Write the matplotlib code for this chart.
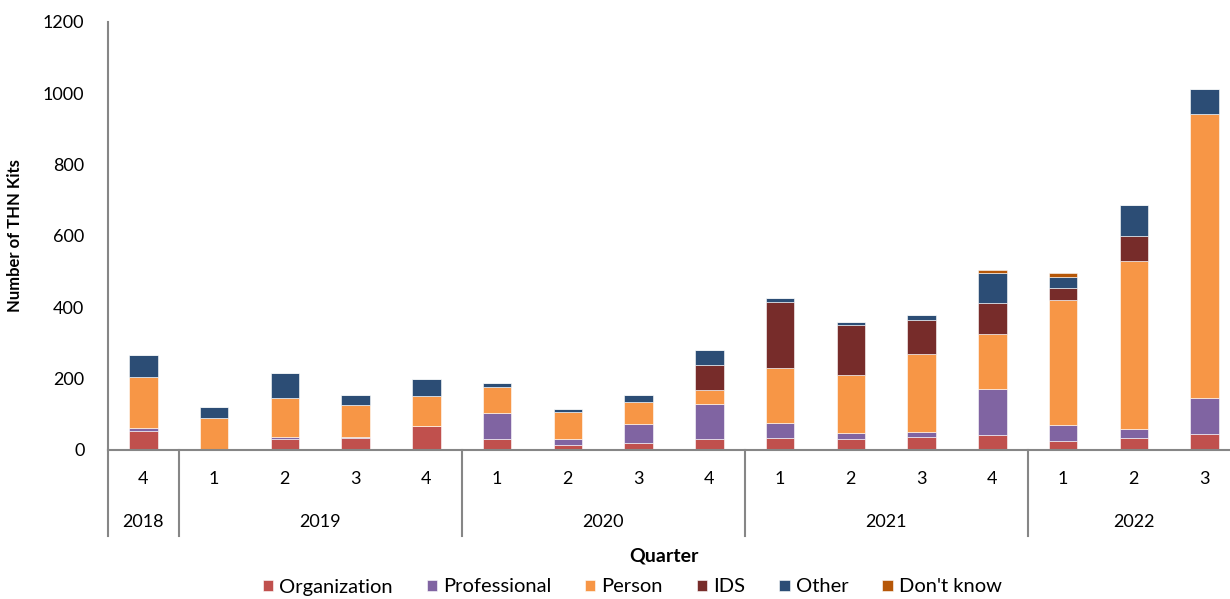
import matplotlib.pyplot as plt
import matplotlib.transforms as mtransforms
import numpy as np

plt.rcParams['font.family'] = ['Lato', 'DejaVu Sans']

quarters = ['4', '1', '2', '3', '4', '1', '2', '3', '4', '1', '2', '3', '4', '1', '2', '3']
years = ['2018', '2019', '2020', '2021', '2022']
year_counts = [1, 4, 4, 4, 3]

organization = [53, 1, 30, 33, 68, 30, 14, 20, 30, 33, 30, 36, 42, 24, 33, 45]
professional = [9, 3, 6, 3, 0, 73, 16, 52, 99, 42, 18, 14, 128, 47, 26, 102]
person = [143, 86, 109, 90, 83, 74, 77, 63, 38, 156, 161, 219, 154, 349, 471, 794]
ids = [0, 0, 0, 0, 0, 0, 0, 0, 70, 183, 141, 95, 88, 34, 70, 0]
other = [61, 30, 70, 28, 48, 10, 7, 20, 43, 11, 8, 14, 83, 31, 86, 70]
dont_know = [0, 0, 0, 0, 0, 0, 0, 0, 0, 0, 0, 0, 9, 11, 0, 0]

series = [
    ('Organization', organization, '#C0504D'),
    ('Professional', professional, '#8064A2'),
    ('Person', person, '#F79646'),
    ('IDS', ids, '#772C2A'),
    ('Other', other, '#2C4D75'),
    ("Don't know", dont_know, '#B65708'),
]

fig = plt.figure(figsize=(12.3, 5.99), dpi=100)
ax = fig.add_axes([108 / 1230, 149 / 599, 1132 / 1230, 428 / 599])

x = np.arange(len(quarters))
bottom = np.zeros(len(quarters))
for name, vals, color in series:
    ax.bar(x, vals, width=0.4, bottom=bottom, color=color, label=name,
           edgecolor='white', linewidth=0.4)
    bottom += np.array(vals)

ax.set_xlim(-0.5, len(quarters) - 0.5)
ax.set_ylim(0, 1200)
ax.set_yticks(range(0, 1201, 200))
ax.tick_params(axis='y', length=0, pad=17, labelsize=13)
ax.set_xticks([])
for s in ['top', 'right']:
    ax.spines[s].set_visible(False)
for s in ['left', 'bottom']:
    ax.spines[s].set_color('#868686')
    ax.spines[s].set_linewidth(1.5)

ax.set_ylabel('Number of THN Kits', fontsize=12, fontweight='bold', labelpad=14)

# multi-level category axis
trans = mtransforms.blended_transform_factory(ax.transData, ax.transAxes)
for i, q in enumerate(quarters):
    ax.text(i, -29 / 428, q, transform=trans, ha='center', va='center', fontsize=13)

start = 0
for yr, n in zip(years, year_counts):
    ax.text(start + (n - 1) / 2, -72 / 428, yr, transform=trans,
            ha='center', va='center', fontsize=13)
    ax.plot([start - 0.5, start - 0.5], [0, -86 / 428], transform=trans,
            color='#868686', lw=1.5, clip_on=False)
    start += n

fig.text(664 / 1230, 1 - 556 / 599, 'Quarter', ha='center', va='center',
         fontsize=14, fontweight='bold')

fig.legend(loc='center', bbox_to_anchor=(632 / 1230, 12 / 599), ncol=6,
           frameon=False, fontsize=14.5, handlelength=0.5, handleheight=0.5,
           handletextpad=0.3, columnspacing=1.7)

fig.savefig('out.png', dpi=100)
